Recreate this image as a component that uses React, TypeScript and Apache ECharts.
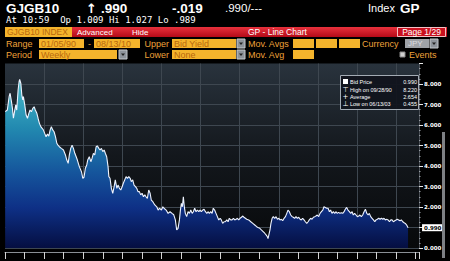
import React, { useEffect, useRef } from "react";
import * as echarts from "echarts";

// Weekly JGB 10y bid yield (decimal year, %)
const years: number[] = [
  1990.01, 1990.12, 1990.21, 1990.26, 1990.33, 1990.38, 1990.43, 1990.5, 1990.55, 1990.6, 1990.67, 1990.72, 1990.75, 1990.81, 1990.86, 1990.91, 1990.94,
  1991.01, 1991.08, 1991.15, 1991.22, 1991.28, 1991.35, 1991.42, 1991.49, 1991.55, 1991.63, 1991.69, 1991.76, 1991.83, 1991.9, 1991.96,
  1992.03, 1992.1, 1992.17, 1992.24, 1992.31, 1992.37, 1992.44, 1992.51, 1992.58, 1992.65, 1992.71, 1992.78, 1992.88, 1992.99,
  1993.09, 1993.16, 1993.23, 1993.29, 1993.36, 1993.43, 1993.5, 1993.57, 1993.64, 1993.7, 1993.8, 1993.91, 1993.98,
  1994.04, 1994.11, 1994.18, 1994.23, 1994.31, 1994.39, 1994.45, 1994.52, 1994.59, 1994.66, 1994.72, 1994.8, 1994.86, 1994.93,
  1995.0, 1995.07, 1995.13, 1995.2, 1995.27, 1995.31, 1995.37, 1995.44, 1995.51, 1995.58, 1995.64, 1995.72, 1995.78, 1995.85, 1995.92, 1995.99,
  1996.05, 1996.12, 1996.19, 1996.26, 1996.33, 1996.4, 1996.46, 1996.53, 1996.6, 1996.67, 1996.74, 1996.8, 1996.87, 1996.94,
  1997.01, 1997.08, 1997.15, 1997.21, 1997.28, 1997.35, 1997.42, 1997.48, 1997.56, 1997.66, 1997.76, 1997.83, 1997.9,
  1998.0, 1998.07, 1998.13, 1998.24, 1998.34, 1998.44, 1998.54, 1998.63, 1998.71, 1998.78, 1998.85, 1998.92, 1998.97,
  1999.02, 1999.07, 1999.12, 1999.17, 1999.22, 1999.29, 1999.36, 1999.43, 1999.5, 1999.57, 1999.63, 1999.7, 1999.77, 1999.84, 1999.91, 1999.97,
  2000.04, 2000.11, 2000.18, 2000.25, 2000.32, 2000.38, 2000.45, 2000.52, 2000.59, 2000.65, 2000.72, 2000.79, 2000.86, 2000.93,
  2001.0, 2001.06, 2001.13, 2001.2, 2001.27, 2001.34, 2001.41, 2001.47, 2001.54, 2001.61, 2001.68, 2001.75, 2001.82, 2001.88, 2001.95,
  2002.02, 2002.09, 2002.16, 2002.22, 2002.29, 2002.36, 2002.46, 2002.57, 2002.67, 2002.77, 2002.87, 2002.94,
  2003.03, 2003.11, 2003.2, 2003.28, 2003.36, 2003.41, 2003.45, 2003.55, 2003.6, 2003.66, 2003.72, 2003.79, 2003.86, 2003.93,
  2004.0, 2004.06, 2004.13, 2004.2, 2004.27, 2004.34, 2004.41, 2004.47, 2004.54, 2004.61, 2004.68, 2004.74, 2004.81, 2004.88, 2004.95,
  2005.02, 2005.09, 2005.15, 2005.22, 2005.29, 2005.36, 2005.43, 2005.5, 2005.56, 2005.63, 2005.7, 2005.77, 2005.84, 2005.9, 2005.97,
  2006.04, 2006.11, 2006.18, 2006.25, 2006.31, 2006.38, 2006.45, 2006.52, 2006.59, 2006.65, 2006.72, 2006.79, 2006.86, 2006.93, 2006.99,
  2007.06, 2007.13, 2007.2, 2007.27, 2007.34, 2007.4, 2007.47, 2007.54, 2007.61, 2007.68, 2007.75, 2007.81, 2007.88, 2007.95,
  2008.02, 2008.09, 2008.15, 2008.22, 2008.29, 2008.36, 2008.43, 2008.5, 2008.57, 2008.63, 2008.7, 2008.77, 2008.84, 2008.91, 2008.97,
  2009.04, 2009.11, 2009.18, 2009.25, 2009.32, 2009.38, 2009.45, 2009.52, 2009.59, 2009.66, 2009.73, 2009.79, 2009.86, 2009.93,
  2010.0, 2010.06, 2010.13, 2010.2, 2010.27, 2010.34, 2010.41, 2010.47, 2010.54, 2010.61,
];
const yields: number[] = [
  6.65, 6.73, 7.38, 7.55, 7.14, 6.81, 6.33, 6.73, 6.98, 6.73, 7.71, 8.11, 8.22, 8.03, 7.46, 7.22, 7.38,
  6.98, 6.49, 6.33, 6.57, 6.73, 6.65, 6.81, 6.89, 6.73, 6.57, 6.33, 6.08, 5.92, 5.84, 5.76,
  5.59, 5.43, 5.56, 5.46, 5.76, 5.92, 5.76, 5.67, 5.43, 5.11, 5.02, 4.94, 4.86, 4.78,
  4.54, 4.29, 4.13, 4.54, 4.86, 5.02, 4.86, 4.62, 4.45, 4.29, 3.97, 3.72, 3.4,
  3.45, 3.89, 4.05, 4.29, 4.45, 4.21, 4.37, 4.62, 4.54, 4.94, 4.98, 4.86, 4.78, 4.86,
  4.7, 4.78, 4.62, 4.45, 3.97, 3.48, 3.4, 2.91, 2.67, 2.99, 3.32, 2.91, 3.07, 2.91, 2.83, 2.99,
  3.16, 3.32, 3.48, 3.4, 3.48, 3.4, 3.24, 3.32, 3.07, 2.99, 2.91, 2.75, 2.75, 2.59,
  2.67, 2.5, 2.59, 2.5, 2.42, 2.83, 2.67, 2.34, 2.26, 2.1, 2.01, 1.85, 1.94,
  1.85, 2.01, 1.94, 1.85, 1.69, 1.77, 1.69, 1.62, 1.37, 0.88, 0.96, 1.37, 1.85,
  2.18, 2.01, 2.5, 2.01, 1.69, 1.53, 1.77, 1.69, 1.85, 1.69, 1.77, 1.94, 1.77, 1.85, 1.77, 1.85,
  1.77, 1.85, 1.89, 1.77, 1.69, 1.77, 1.69, 1.77, 1.69, 1.94, 1.85, 1.69, 1.53, 1.37,
  1.45, 1.37, 1.2, 1.28, 1.28, 1.37, 1.28, 1.45, 1.37, 1.37, 1.45, 1.37, 1.4, 1.45, 1.37,
  1.45, 1.5, 1.56, 1.5, 1.45, 1.4, 1.37, 1.28, 1.2, 1.12, 1.04, 1.0,
  0.96, 0.88, 0.8, 0.72, 0.63, 0.56, 0.455, 0.88, 1.2, 1.45, 1.53, 1.45, 1.53, 1.4,
  1.45, 1.37, 1.4, 1.33, 1.45, 1.53, 1.69, 1.85, 1.77, 1.61, 1.53, 1.5, 1.45, 1.53, 1.45,
  1.5, 1.4, 1.37, 1.45, 1.37, 1.28, 1.2, 1.28, 1.37, 1.45, 1.4, 1.5, 1.53, 1.56, 1.61,
  1.53, 1.69, 1.77, 1.85, 2.01, 1.98, 1.94, 1.94, 1.77, 1.85, 1.69, 1.77, 1.69, 1.77, 1.69,
  1.74, 1.69, 1.72, 1.69, 1.77, 1.89, 1.98, 1.85, 1.77, 1.69, 1.77, 1.61, 1.69, 1.61,
  1.53, 1.56, 1.61, 1.53, 1.61, 1.77, 1.89, 1.69, 1.61, 1.69, 1.53, 1.45, 1.37, 1.28, 1.37,
  1.4, 1.45, 1.4, 1.45, 1.4, 1.45, 1.37, 1.4, 1.37, 1.28, 1.37, 1.37, 1.28, 1.33,
  1.37, 1.4, 1.37, 1.33, 1.37, 1.28, 1.23, 1.2, 1.12, 0.99,
];

const headerQuote = ["GJGB10", "↑", ".990", "-.019", ".990/---"];
const headerInfo = "At 10:59  Op 1.009 Hi 1.027 Lo .989";
const legendMarks = ["", "⊤", "+", "⊥"];
const legendLabels = ["Bid Price", "High on 09/28/90", "Average", "Low on 06/13/03"];
const legendValues = ["0.990", "8.220", "2.654", "0.455"];

const AMBER = "#f4b42c";
const AMBER_TXT = "#b8680c";
const LABEL = "#eea23a";
const UI = '"Liberation Sans", Arial, sans-serif';

function txt(text: string, x: number, y: number, fill: string, font: string, align = "left", z = 10) {
  return { type: "text", x, y, z, silent: true, style: { text, fill, font, align, verticalAlign: "middle" } };
}
function box(x: number, y: number, w: number, h: number, fill: any, stroke?: string, z = 5) {
  return {
    type: "rect", z, silent: true,
    shape: { x, y, width: w, height: h },
    style: { fill, stroke: stroke || null, lineWidth: stroke ? 1 : 0 },
  };
}
function drop(x: number, y: number) {
  return [
    box(x, y, 8, 9, "#8e949b", "#c4c8cc"),
    { type: "polygon", z: 11, silent: true, shape: { points: [[x + 2, y + 3.5], [x + 6, y + 3.5], [x + 4, y + 6]] }, style: { fill: "#222" } },
  ];
}

export default function App() {
  const ref = useRef<HTMLDivElement>(null);
  useEffect(() => {
    document.body.style.margin = "0";
    document.body.style.background = "#000";
    const chart = echarts.init(ref.current!, null, { renderer: "svg" });
    const data = years.map((x, i) => [x, yields[i]]);

    const red = new echarts.graphic.LinearGradient(0, 0, 0, 1, [
      { offset: 0, color: "#e8313c" },
      { offset: 1, color: "#b40a18" },
    ]);
    const BIG = `bold 13.5px ${UI}`;
    const g: any[] = [
      txt(headerQuote[0], 6, 8, "#fff", BIG),
      txt(headerQuote[1], 86, 8, "#fff", 'bold 13px "DejaVu Sans"'),
      txt(headerQuote[2], 101, 8, "#fff", BIG),
      txt(headerQuote[3], 172, 8, "#fff", BIG),
      txt(headerQuote[4], 225, 8, "#fff", `11.5px ${UI}`),
      txt("Index", 368, 8, "#fff", `11px ${UI}`),
      txt("GP", 400, 8, "#fff", `bold 13.5px ${UI}`),
      txt(headerInfo, 6, 19.5, "#fff", '9px "DejaVu Sans Mono", monospace'),
      // row 3
      box(5, 27, 67, 10, AMBER),
      txt("GJGB10 INDEX", 7, 32, AMBER_TXT, `8.5px ${UI}`),
      box(72, 27, 375, 10, red),
      txt("Advanced", 77, 32, "#fff", `8px ${UI}`),
      txt("Hide", 132, 32, "#fff", `8px ${UI}`),
      txt("GP - Line Chart", 248, 32, "#fff", `8.5px ${UI}`),
      box(397.5, 27.5, 48, 9, "#c8101e", "#f3c0c4"),
      txt("Page 1/29", 421.5, 32, "#fff", `8.5px ${UI}`, "center"),
      // row 4
      txt("Range", 6, 43.5, LABEL, `9px ${UI}`),
      box(39, 39, 45, 9, AMBER),
      txt("01/05/90", 41, 43.5, AMBER_TXT, `9px ${UI}`),
      txt("-", 88, 43.5, LABEL, `9px ${UI}`),
      box(94, 39, 46, 9, AMBER),
      txt("08/13/10", 96, 43.5, AMBER_TXT, `9px ${UI}`),
      txt("Upper", 169, 43.5, LABEL, `9px ${UI}`, "right"),
      box(172, 39, 64, 9, AMBER),
      txt("Bid Yield", 174, 43.5, AMBER_TXT, `9px ${UI}`),
      ...drop(237, 39),
      txt("Mov. Avgs", 248, 43.5, LABEL, `9px ${UI}`),
      box(293, 39, 21, 9, AMBER),
      box(316, 39, 21, 9, AMBER),
      box(339, 39, 21, 9, AMBER),
      txt("Currency", 362, 43.5, LABEL, `9px ${UI}`),
      box(405, 39, 24, 9, "#9ea2a7"),
      txt("JPY", 408, 43.5, "#dcdde0", `8px ${UI}`),
      ...drop(430, 39),
      // row 5
      txt("Period", 6, 54.5, LABEL, `9px ${UI}`),
      box(39, 50, 78, 9, AMBER),
      txt("Weekly", 41, 54.5, AMBER_TXT, `9px ${UI}`),
      ...drop(119, 50),
      txt("Lower", 169, 54.5, LABEL, `9px ${UI}`, "right"),
      box(172, 50, 64, 9, AMBER),
      txt("None", 174, 54.5, AMBER_TXT, `9px ${UI}`),
      ...drop(237, 50),
      txt("Mov. Avg", 248, 54.5, LABEL, `9px ${UI}`),
      box(293, 50, 21, 9, AMBER),
      box(400, 52, 5, 5, "#d0d0d0", "#888"),
      txt("Events", 409, 54.5, LABEL, `9px ${UI}`),
      // scrollbar
      box(442, 132, 3, 126, "#7d8084"),
      // legend box
      box(340.5, 75.5, 78, 34, "rgba(16,20,28,0.92)", "#a3abb4", 50),
    ];
    const rowsY = [81.5, 89.5, 97, 104];
    legendLabels.forEach((lab, i) => {
      if (i === 0) g.push(box(343, rowsY[i] - 2.5, 5, 5, "#ffffff", undefined, 51));
      else g.push(txt(legendMarks[i], 345.5, rowsY[i], "#fff", '7px "DejaVu Sans"', "center", 51));
      g.push(txt(lab, 350, rowsY[i], "#fff", `5.5px ${UI}`, "left", 51));
      g.push(txt(legendValues[i], 417, rowsY[i], "#fff", `5.5px ${UI}`, "right", 51));
    });

    chart.setOption({
      animation: false,
      backgroundColor: "#000",
      grid: {
        left: 5, right: 31, top: 63.5, bottom: 13, show: true, borderWidth: 0,
        backgroundColor: new echarts.graphic.LinearGradient(0, 0, 0, 1, [
          { offset: 0, color: "#29333d" },
          { offset: 0.5, color: "#13171c" },
          { offset: 1, color: "#07090b" },
        ]),
      },
      xAxis: [
        {
          type: "value", min: 1990, max: 2011.17, interval: 2,
          axisLine: { show: false }, axisTick: { show: false }, axisLabel: { show: false },
          splitLine: { show: true, showMinLine: false, showMaxLine: false, lineStyle: { color: "#3e4750", width: 1 } },
        },
        {
          type: "value", min: 1990, max: 2011.17, interval: 1, position: "bottom", offset: 4,
          axisLine: { show: true, lineStyle: { color: "#8a8f95" } },
          axisTick: { show: true, length: 7, lineStyle: { color: "#d4d4d4" } },
          axisLabel: { show: false }, splitLine: { show: false },
        },
      ],
      yAxis: {
        type: "value", position: "right", min: 0, max: 9, interval: 1,
        axisLine: { show: true, lineStyle: { color: "#4a4f56" } },
        axisTick: { show: true, length: 4, lineStyle: { color: "#e6e6e6" } },
        minorTick: { show: true, splitNumber: 4, length: 1.5, lineStyle: { color: "#9aa0a6" } },
        axisLabel: {
          color: "#fff", fontSize: 5.5, fontWeight: "bold", fontFamily: "DejaVu Sans", margin: 5,
          showMaxLabel: false, formatter: (v: number) => v.toFixed(3),
        },
        splitLine: { show: true, showMaxLine: false, lineStyle: { color: "#3e4750", width: 1 } },
      },
      series: [
        {
          type: "line", xAxisIndex: 0, yAxisIndex: 0, data, showSymbol: false, symbol: "none",
          lineStyle: { color: "#eef3ff", width: 1.1 },
          areaStyle: {
            opacity: 1,
            color: new echarts.graphic.LinearGradient(0, 75, 0, 252, [
              { offset: 0, color: "#4cc0cc" },
              { offset: 0.3, color: "#2289b0" },
              { offset: 0.55, color: "#15559c" },
              { offset: 0.75, color: "#0e3086" },
              { offset: 1, color: "#040b3a" },
            ], true),
          },
          endLabel: {
            show: true, distance: 14, backgroundColor: "#fff", color: "#000",
            fontSize: 5.5, fontWeight: "bold", fontFamily: "DejaVu Sans", padding: [1, 2, 0, 2],
            formatter: (p: any) => Number(p.value[1]).toFixed(3),
          },
        },
      ],
      graphic: g,
    });
    return () => chart.dispose();
  }, []);
  return <div ref={ref} style={{ width: 450, height: 261, background: "#000" }} />;
}
